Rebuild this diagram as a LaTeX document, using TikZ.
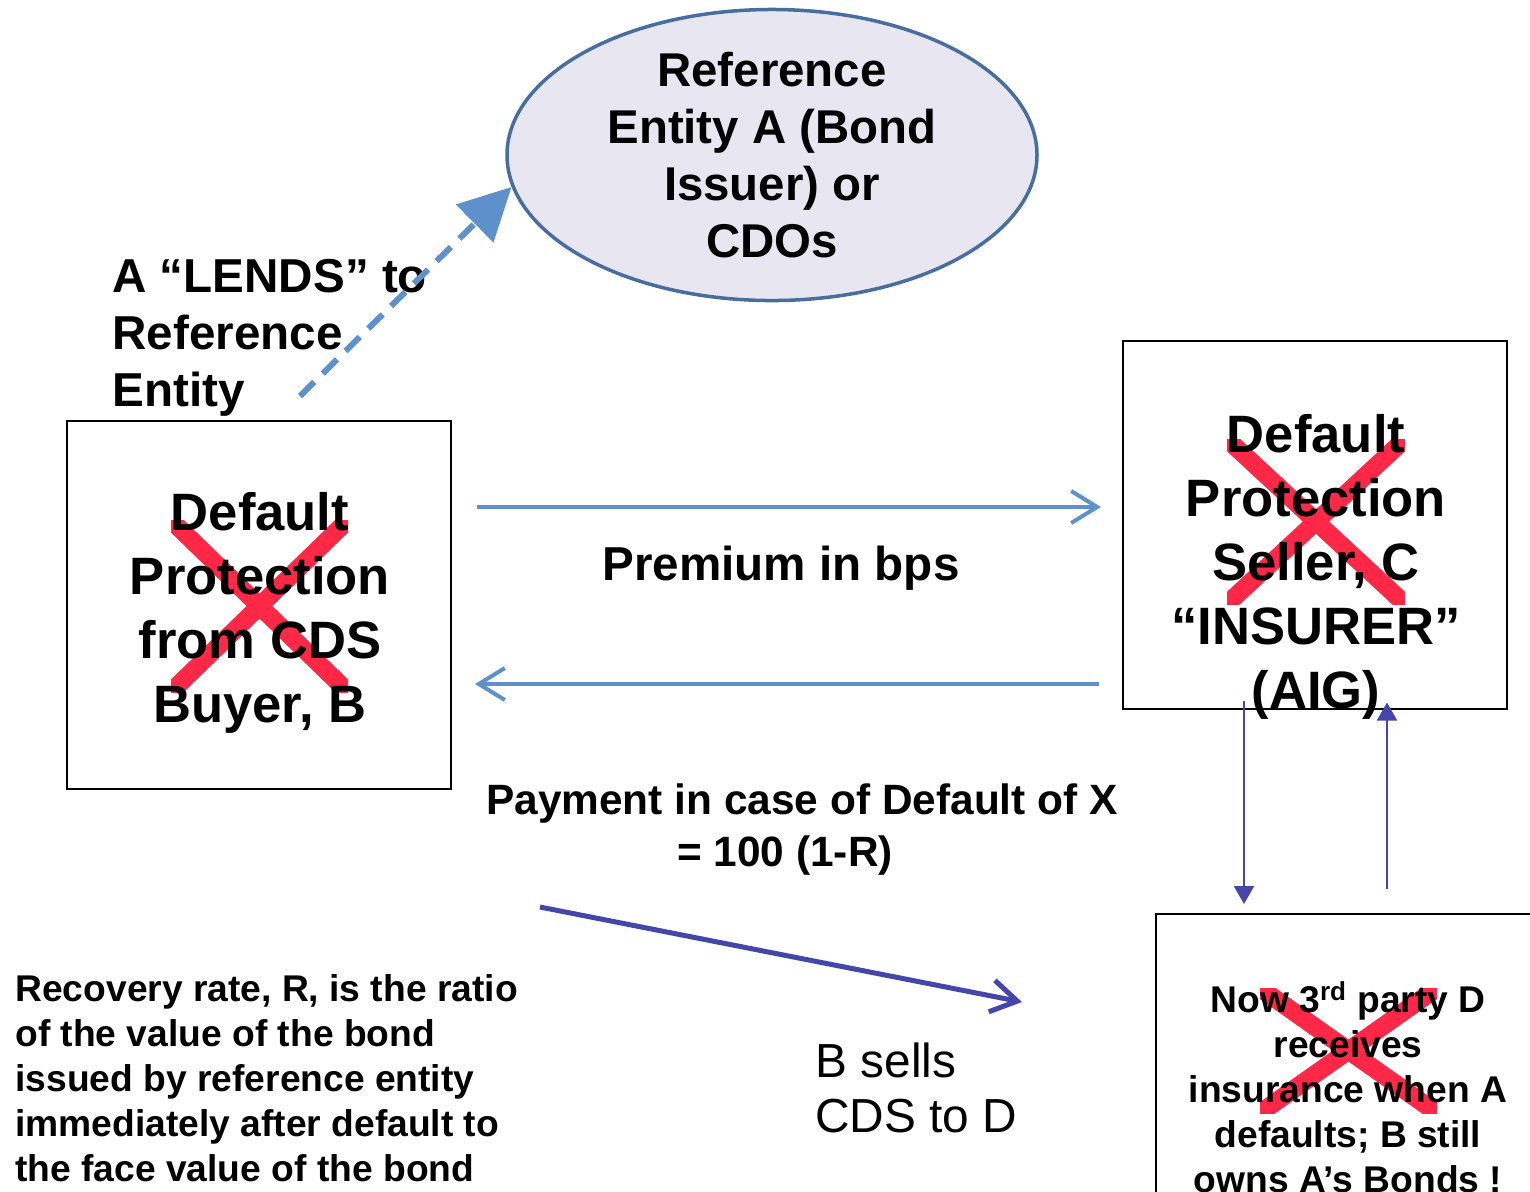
\documentclass[tikz,border=0pt]{standalone}
\usepackage{fontspec}
\setmainfont{Liberation Sans}
\usetikzlibrary{arrows.meta,positioning,calc,shapes.geometric}
\definecolor{flowblue}{RGB}{94,145,204}
\definecolor{entityline}{RGB}{72,110,160}
\definecolor{entityfill}{RGB}{232,230,241}
\definecolor{cashindigo}{RGB}{68,70,170}
\definecolor{crossred}{RGB}{255,40,70}
\tikzset{
  bigtext/.style={
    align=center,
    inner sep=0pt,
    font=\fontsize{26.3}{32}\selectfont\bfseries
  },
  midtext/.style={
    align=center,
    inner sep=0pt,
    font=\fontsize{23.8}{28.5}\selectfont\bfseries
  },
  paytext/.style={
    align=center,
    inner sep=0pt,
    font=\fontsize{21.2}{26}\selectfont\bfseries
  },
  smalltext/.style={
    align=center,
    inner sep=0pt,
    font=\fontsize{18.6}{22.5}\selectfont\bfseries
  },
  plaintext/.style={
    align=left,
    inner sep=0pt,
    font=\fontsize{23.9}{27.5}\selectfont
  },
  box/.style={
    draw,
    line width=1pt,
    minimum width=192pt,
    minimum height=184pt,
    inner sep=0pt
  },
  entity/.style={
    ellipse,
    draw=entityline,
    fill=entityfill,
    line width=1.75pt,
    minimum width=265pt,
    minimum height=145pt,
    inner sep=0pt,
    align=center,
    font=\fontsize{23.7}{28.5}\selectfont\bfseries
  },
  redx/.style={crossred, line width=9pt},
  flowarrow/.style={-{Straight Barb[length=13pt,width=16pt]}, flowblue, line width=2pt},
  lendarrow/.style={-{Triangle[length=26pt,width=26pt]}, flowblue, line width=3pt, dash pattern=on 10pt off 6pt},
  thinarrow/.style={-{Triangle[length=9pt,width=10pt]}, cashindigo, line width=1pt},
  sellarrow/.style={-{Straight Barb[length=13pt,width=16pt]}, cashindigo, line width=2.5pt}
}

\begin{document}
\begin{tikzpicture}[x=0.5pt, y=-0.5pt]
\useasboundingbox (0,0) rectangle (1530,1191);

\node[entity] (ref) at (772,155) {Reference\\Entity A (Bond\\Issuer) or\\CDOs};

\node[box] (buyer) at (259,605) {};
\node[box] (seller) at (1315,524.5) {};
\node[box, minimum width=194.5pt, minimum height=148pt] (third) at (1350.5,1062) {};

% red crosses behind the texts
\foreach \xa/\ya/\xb/\yb in {171/520/348/692, 1227/439/1405/604, 1260/988/1437/1113} {
  \begin{scope}
    \clip (\xa,\ya) rectangle (\xb,\yb);
    \draw[redx] ($(\xa,\ya)!-0.2!(\xb,\yb)$) -- ($(\xb,\yb)!-0.2!(\xa,\ya)$);
    \draw[redx] ($(\xa,\yb)!-0.2!(\xb,\ya)$) -- ($(\xb,\ya)!-0.2!(\xa,\yb)$);
  \end{scope}
}

\node[bigtext] (buyertxt) at (260,613) {Default\\Protection\\from CDS\\Buyer, B};
\node[bigtext] (sellertxt) at (1316,567) {Default\\Protection\\Seller, C\\“INSURER”\\(AIG)};
\node[smalltext] (thirdtxt) at (1348,1087) {Now 3\textsuperscript{rd} party D\\receives\\insurance when A\\defaults; B still\\owns A’s Bonds !};

\node[midtext, align=left, anchor=west] (lends) at (112,338) {A “LENDS” to\\Reference\\Entity};
\node[midtext] (premium) at (781,568) {Premium in bps};
\node[paytext] (payment) at (802,830) {Payment in case of Default of X\\= 100 (1-R)\hspace*{17pt}};
\node[smalltext, align=left, anchor=west] (recovery) at (15,1078.5) {Recovery rate, R, is the ratio\\of the value of the bond\\issued by reference entity\\immediately after default to\\the face value of the bond};
\node[plaintext, anchor=west] (sells) at (815,1087.5) {B sells\\CDS to D};

% connectors
\coordinate (lendfoot) at (300,396);
\coordinate (sellstart) at (540,907);
\coordinate (sellend) at (1022,1002);

\draw[lendarrow] (lendfoot) -- (ref.187);
\draw[flowarrow] ([shift={(25,-98)}]buyer.east) -- ([shift={(-21,-17.5)}]seller.west);
\draw[flowarrow] ([shift={(-23,159.5)}]seller.west) -- ([shift={(23,79)}]buyer.east);
\draw[thinarrow] ([shift={(122,-9)}]seller.south west) -- ([shift={(89,-9)}]third.north west);
\draw[thinarrow] ([shift={(232,-24)}]third.north west) -- ([shift={(265,-7)}]seller.south west);
\draw[sellarrow] (sellstart) -- (sellend);

\end{tikzpicture}
\end{document}
